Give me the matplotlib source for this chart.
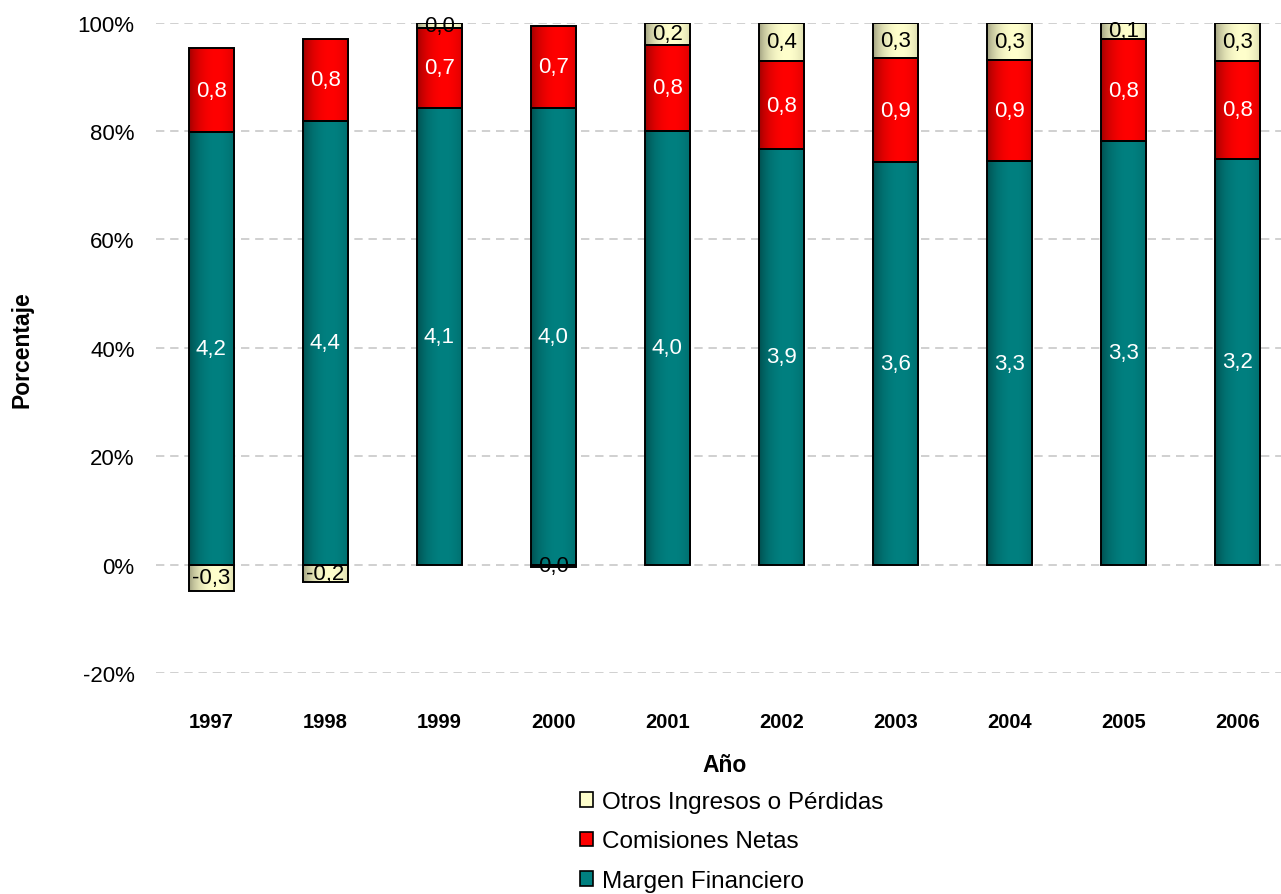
import numpy as np
import matplotlib
matplotlib.use('Agg')
import matplotlib.pyplot as plt
from matplotlib.patches import Rectangle
from matplotlib.colors import to_rgb

plt.rcParams['font.family'] = ['Liberation Sans', 'DejaVu Sans']

# Datos (porcentaje de la suma de componentes)
anios = ['1997', '1998', '1999', '2000', '2001', '2002', '2003', '2004', '2005', '2006']
margen_pct = [79.8, 81.9, 84.3, 84.3, 80.1, 76.7, 74.3, 74.4, 78.1, 74.9]
comisiones_pct = [15.5, 15.1, 14.7, 15.1, 15.8, 16.2, 19.1, 18.8, 18.9, 18.0]
otros_pct = [-4.9, -3.2, 1.0, -0.5, 4.1, 7.1, 6.6, 6.8, 3.0, 7.1]

# Etiquetas (valores originales)
margen_lbl = [4.2, 4.4, 4.1, 4.0, 4.0, 3.9, 3.6, 3.3, 3.3, 3.2]
comisiones_lbl = [0.8, 0.8, 0.7, 0.7, 0.8, 0.8, 0.9, 0.9, 0.8, 0.8]
otros_lbl = [-0.3, -0.2, 0.0, 0.0, 0.2, 0.4, 0.3, 0.3, 0.1, 0.3]

nombres = ['Margen Financiero', 'Comisiones Netas', 'Otros Ingresos o Pérdidas']
colores = ['#008080', '#FF0000', '#FFFFCC']
col_texto = ['white', 'white', 'black']


def degradado(color, n=64):
    """Degradado horizontal: oscuro en los bordes, claro hacia el centro"""
    t = np.linspace(0, 1, n)
    f = np.clip(1 - ((t - 0.6) / 0.65) ** 2, 0, 1)
    luz = 0.5 + 0.5 * f ** 0.7
    base = np.array(to_rgb(color))
    return (base[None, :] * luz[:, None])[None, :, :]


fig = plt.figure(figsize=(12.81, 8.95), dpi=100)
ax = fig.add_axes([155.5 / 1281, 1 - 674 / 895, 1140 / 1281, (674 - 23.7) / 895])

x = np.arange(len(anios))
ancho = 0.395
margen = np.array(margen_pct)
comis = np.array(comisiones_pct)
otros = np.array(otros_pct)
base_otros = np.where(otros >= 0, margen + comis, 0)

series = [
    (margen, np.zeros_like(margen), margen_lbl),
    (comis, margen, comisiones_lbl),
    (otros, base_otros, otros_lbl),
]

for (alturas, bases, etiquetas), color, ct in zip(series, colores, col_texto):
    barras = ax.bar(x, alturas, ancho, bottom=bases, color=color, zorder=2)
    grad = degradado(color)
    for p in barras.patches:
        x0, y0 = p.get_x(), p.get_y()
        w, h = p.get_width(), p.get_height()
        ax.imshow(grad, extent=[x0, x0 + w, min(y0, y0 + h), max(y0, y0 + h)],
                  aspect='auto', zorder=2.5, interpolation='bicubic')
    ax.bar(x, alturas, ancho, bottom=bases, fill=False, edgecolor='black',
           linewidth=1.4, zorder=3)
    for xi, h, b, lbl in zip(x, alturas, bases, etiquetas):
        ax.text(xi, b + h / 2, f'{lbl:.1f}'.replace('.', ','), ha='center', va='center',
                color=ct, fontsize=16, zorder=4)

ax.set_xlim(-0.49, 9.51)
ax.set_ylim(-20, 100)
ax.set_yticks(np.arange(-20, 101, 20))
ax.set_yticklabels([f'{v}%' for v in range(-20, 101, 20)], fontsize=16)
ax.set_xticks(x)
ax.set_xticklabels(anios, fontsize=14.5, fontweight='bold')
ax.tick_params(axis='x', length=0, pad=28)
ax.tick_params(axis='y', length=0, pad=15)
ax.yaxis.grid(True, color='#C8C8C8', linestyle=(0, (5, 3.5)), linewidth=1.2, zorder=0)
ax.set_axisbelow(True)
for s in ax.spines.values():
    s.set_visible(False)

fig.text(725 / 1281, 1 - 765 / 895, 'Año', ha='center', va='center',
         fontsize=16.5, fontweight='bold')
fig.text(22 / 1281, 1 - 350 / 895, 'Porcentaje', ha='center', va='center',
         rotation=90, fontsize=16.5, fontweight='bold')

# Leyenda (orden inverso)
handles = [Rectangle((0, 0), 1, 1, facecolor=c, edgecolor='black', linewidth=1.2)
           for c in colores[::-1]]
fig.legend(handles, nombres[::-1], loc='upper left',
           bbox_to_anchor=(580 / 1281, 1 - 792 / 895), frameon=False,
           fontsize=17.5, handlelength=0.55, handleheight=0.55,
           handletextpad=0.35, labelspacing=0.72, borderaxespad=0, borderpad=0)

fig.savefig('out.png', dpi=100)
